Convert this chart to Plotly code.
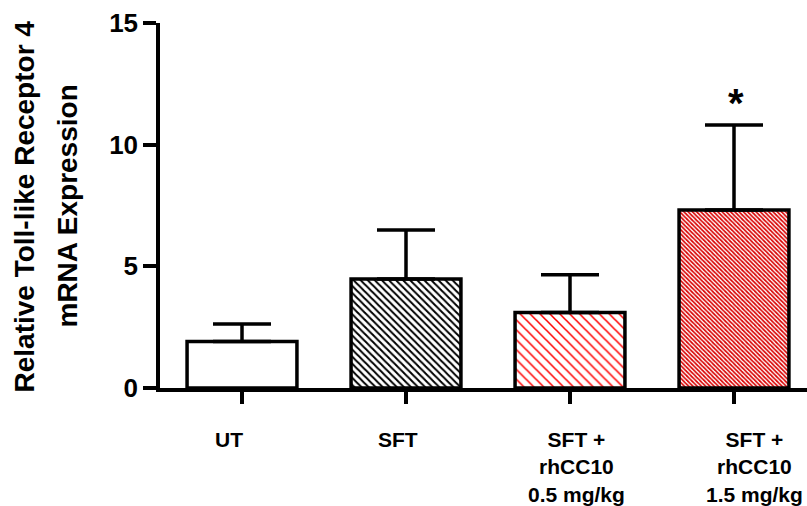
import plotly.graph_objects as go

# Group labels, means and upper error (SEM) for TLR4 expression
groups = ["UT", "SFT", "SFT +<br>rhCC10<br>0.5 mg/kg", "SFT +<br>rhCC10<br>1.5 mg/kg"]
means = [1.91, 4.48, 3.10, 7.32]
errors = [0.72, 2.01, 1.55, 3.49]
significance = ["", "", "", "*"]
y_ticks = [0, 5, 10, 15]

# Fill styles per group
fill_fg = ["black", "black", "#ff0000", "#d80000"]
fill_shape = ["", "\\", "\\", "\\"]
fill_size = [8, 5, 7, 3]
fill_solidity = [0.3, 0.4, 0.22, 0.55]

FONT = "Liberation Sans, Arial, sans-serif"
positions = list(range(len(groups)))

fig = go.Figure()
fig.add_trace(go.Bar(
    x=positions,
    y=means,
    width=0.67,
    marker=dict(
        color="white",
        line=dict(color="black", width=3.5),
        pattern=dict(
            shape=fill_shape,
            fgcolor=fill_fg,
            bgcolor="white",
            size=fill_size,
            solidity=fill_solidity,
            fillmode="replace",
        ),
    ),
    error_y=dict(
        type="data",
        symmetric=False,
        array=errors,
        arrayminus=[0] * len(errors),
        color="black",
        thickness=3.5,
        width=29,
    ),
    showlegend=False,
))

# Category labels below the axis
label_shift = [-13, -8, 6, 20]
for i, (g, dx) in enumerate(zip(groups, label_shift)):
    fig.add_annotation(
        x=i, y=0, xref="x", yref="y",
        text=g, showarrow=False,
        xanchor="center", yanchor="top",
        xshift=dx, yshift=-38,
        font=dict(family=FONT, size=21, color="black", weight="bold"),
        align="center",
    )

# Significance marks above the error bars
for i, (m, e, s) in enumerate(zip(means, errors, significance)):
    if s:
        fig.add_annotation(
            x=i, y=m + e, xref="x", yref="y",
            text=s, showarrow=False,
            xanchor="center", yanchor="bottom",
            xshift=2, yshift=-2,
            font=dict(family=FONT, size=40, color="black", weight="bold"),
        )

# Two-line y-axis title
title_lines = ["Relative Toll-like Receptor 4", "mRNA Expression"]
title_x = [24, 67]
for t, px in zip(title_lines, title_x):
    fig.add_annotation(
        x=0, y=0.5, xref="paper", yref="paper",
        text=t, showarrow=False, textangle=-90,
        xanchor="center", yanchor="middle",
        xshift=px - 160, yshift=-1,
        font=dict(family=FONT, size=28, color="black", weight="bold"),
    )

fig.update_layout(
    width=807, height=506,
    margin=dict(l=160, r=0, t=23, b=118),
    paper_bgcolor="white",
    plot_bgcolor="white",
    font=dict(family=FONT, color="black"),
    xaxis=dict(
        range=[-0.5, -0.5 + 647 / 164],
        tickvals=positions,
        ticktext=[""] * len(positions),
        ticks="outside", ticklen=12, tickwidth=3.5, tickcolor="black",
        showline=True, linecolor="black", linewidth=3.5,
        showgrid=False, zeroline=False,
    ),
    yaxis=dict(
        range=[0, 15],
        tickvals=y_ticks,
        ticks="outside", ticklen=13, tickwidth=3.5, tickcolor="black",
        showline=True, linecolor="black", linewidth=3.5,
        showgrid=False, zeroline=False,
        tickfont=dict(family=FONT, size=26, color="black", weight="bold"),
    ),
)

fig.write_html("out.html")
